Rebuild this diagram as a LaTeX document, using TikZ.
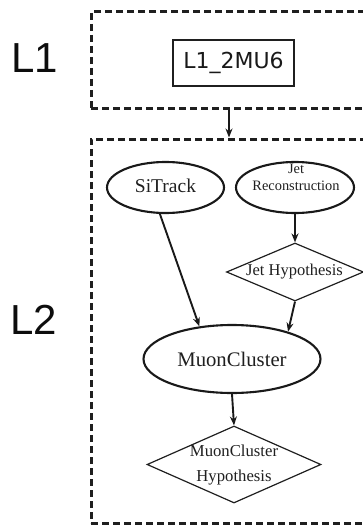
\documentclass[tikz,border=0pt]{standalone}
\usepackage{fontspec}
\setmainfont{Liberation Serif}
\newfontfamily\lsans{Liberation Sans}
\newfontfamily\dvsans{DejaVu Sans}
\usetikzlibrary{shapes.geometric,arrows.meta}
\begin{document}
\begin{tikzpicture}[x=1pt,y=-1pt,
  levelbox/.style={draw=black!88,line width=3pt,dash pattern=on 7pt off 4pt,minimum width=276pt,inner sep=0pt},
  ell/.style={draw=black!90,ellipse,line width=2.1pt,inner sep=0pt},
  dia/.style={draw=black!88,diamond,line width=1.2pt,inner sep=0pt},
  txt/.style={inner sep=0pt,align=center,text=black!88},
  arr/.style={draw=black!90,line width=1.9pt,-{Stealth[length=9pt,width=7pt]}},
  lvl/.style={inner sep=0pt,font=\lsans\fontsize{42}{44}\selectfont,text=black!95}
]
\useasboundingbox (0,0) rectangle (363,527);
\clip (0,0) rectangle (363,527);
% level labels
\node[lvl] (lone) at (35,58) {L1};
\node[lvl] (ltwo) at (34,320) {L2};
% level boxes
\node[levelbox,minimum height=96pt] (l1box) at (229,60) {};
\node[levelbox,minimum height=384pt] (l2box) at (229,331) {};
% L1 item
\node[draw=black!88,line width=1.6pt,minimum width=121pt,minimum height=46pt,inner sep=0pt,
      font=\dvsans\fontsize{22}{24}\selectfont,text=black!90] (mu6) at (233.5,63) {L1\_2MU6};
% L2 shapes
\node[ell,minimum width=117pt,minimum height=51pt] (sitrack) at (165.5,187.5) {};
\node[txt,font=\fontsize{19.5}{21}\selectfont] (sitracktxt) at (165.5,185.5) {SiTrack};
\node[ell,minimum width=118pt,minimum height=51pt] (jetreco) at (295,187.5) {};
\node[txt,font=\fontsize{14.4}{17.5}\selectfont] (jetrecotxt) at (296,177.5) {Jet\\Reconstruction};
\node[dia,minimum width=137pt,minimum height=58pt] (jethyp) at (295,272) {};
\node[txt,font=\fontsize{16.5}{18}\selectfont] (jethyptxt) at (294.5,272) {Jet Hypothesis};
\node[ell,minimum width=177pt,minimum height=68pt] (muon) at (232,359) {};
\node[txt,font=\fontsize{20.7}{22}\selectfont] (muontxt) at (232,359) {MuonCluster};
\node[dia,minimum width=174pt,minimum height=77pt] (mchyp) at (234,464.5) {};
\node[txt,font=\fontsize{16.7}{25}\selectfont] (mchyptxt) at (234,465) {MuonCluster\\Hypothesis};
% connectors
\draw[arr] (l1box.south) -- (l2box.north);
\draw[arr] (sitrack.258) -- (muon.135);
\draw[arr] (jetreco.south) -- (jethyp.north);
\draw[arr] (jethyp.south) -- (muon.26);
\draw[arr] (muon.south) -- (mchyp.north);
\end{tikzpicture}
\end{document}
